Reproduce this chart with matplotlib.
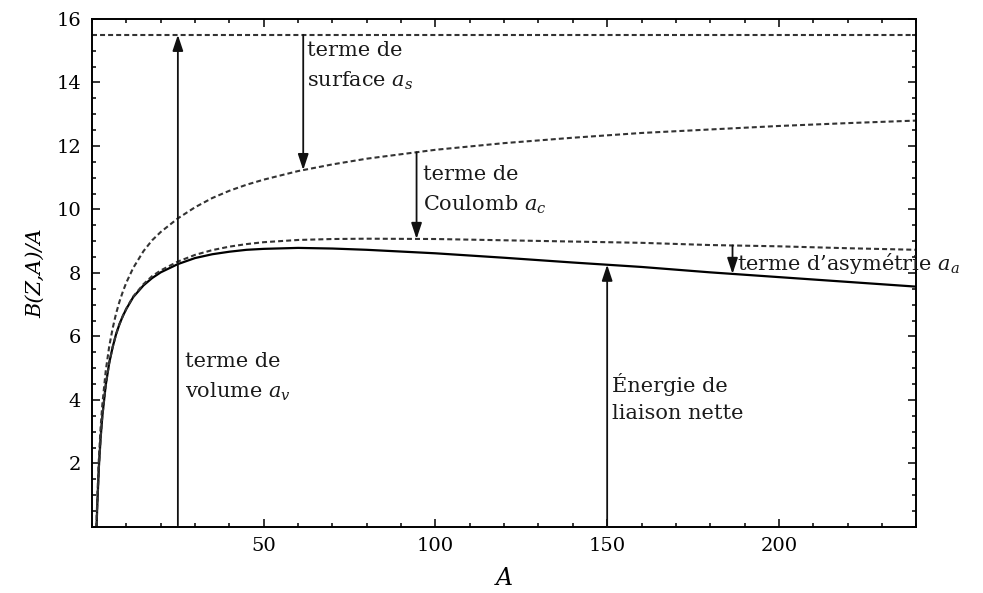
import numpy as np
import matplotlib
matplotlib.use("Agg")
import matplotlib.pyplot as plt
from matplotlib.ticker import MultipleLocator, FixedLocator

plt.rcParams['font.family'] = ['DejaVu Serif']
plt.rcParams['mathtext.fontset'] = 'dejavuserif'
plt.rcParams['lines.scale_dashes'] = False

# Énergie de liaison par nucléon, B(Z,A)/A, en MeV
A = [1, 1.25, 1.5, 2, 2.5, 3, 4, 5, 6, 7, 8, 9, 10, 12, 15, 17.5, 20, 25, 30,
     35, 40, 45, 50, 60, 70, 80, 100, 120, 140, 160, 180, 200, 220, 240]
volume = 15.5
surface = [-1.30, -0.10, 0.82, 2.17, 3.12, 3.85, 4.92, 5.68, 6.25, 6.72, 7.10,
           7.42, 7.70, 8.16, 8.69, 9.03, 9.29, 9.72, 10.07, 10.36, 10.59,
           10.78, 10.94, 11.21, 11.42, 11.60, 11.88, 12.09, 12.26, 12.41,
           12.52, 12.63, 12.72, 12.80]
coulomb = [-1.48, -0.31, 0.59, 1.89, 2.79, 3.48, 4.47, 5.16, 5.66, 6.07, 6.39,
           6.65, 6.88, 7.26, 7.65, 7.90, 8.08, 8.36, 8.57, 8.72, 8.83, 8.91,
           8.97, 9.04, 9.07, 9.08, 9.07, 9.03, 8.99, 8.95, 8.88, 8.84, 8.78,
           8.73]
nette = [-1.48, -0.31, 0.59, 1.89, 2.79, 3.48, 4.47, 5.16, 5.66, 6.07, 6.39,
         6.65, 6.87, 7.24, 7.61, 7.84, 8.02, 8.28, 8.47, 8.59, 8.67, 8.73,
         8.76, 8.79, 8.77, 8.73, 8.62, 8.48, 8.33, 8.19, 8.02, 7.87, 7.72,
         7.57]

# abscisses des flèches
A_volume, A_surface, A_coulomb, A_asym, A_nette = 25, 61.5, 94.5, 186.5, 150

fig = plt.figure(figsize=(9.83, 5.93), dpi=100)
ax = fig.add_axes([0.0936, 0.1113, 0.8385, 0.8567])

dash = dict(color='#333333', lw=1.5, dashes=(3.6, 2.2))
ax.plot(A, nette, color='black', lw=1.6)
ax.axhline(volume, **dash)
ax.plot(A, surface, **dash)
ax.plot(A, coulomb, **dash)

ax.set_xlim(0, 240)
ax.set_ylim(0, 16)


def fleche(x, y0, y1):
    ax.annotate('', xy=(x, y1), xytext=(x, y0),
                arrowprops=dict(arrowstyle='-|>,head_length=0.6,head_width=0.2',
                                color='#111111', lw=1.3, mutation_scale=16,
                                shrinkA=0, shrinkB=0))


fleche(A_volume, 0.05, volume)
fleche(A_surface, volume, np.interp(A_surface, A, surface))
fleche(A_coulomb, np.interp(A_coulomb, A, surface), np.interp(A_coulomb, A, coulomb))
fleche(A_asym, np.interp(A_asym, A, coulomb), np.interp(A_asym, A, nette))
fleche(A_nette, 0.0, np.interp(A_nette, A, nette))

txt = dict(fontsize=15, color='#1a1a1a', va='top', ha='left', linespacing=1.55)
ax.text(A_surface + 1.2, 15.3, "terme de\nsurface $a_s$", **txt)
ax.text(A_coulomb + 2.0, 11.4, "terme de\nCoulomb $a_c$", **txt)
ax.text(A_volume + 2.0, 5.5, "terme de\nvolume $a_v$", **txt)
ax.text(A_nette + 1.5, 4.85, "Énergie de\nliaison nette", **txt)
ax.text(A_asym + 1.2, 8.3, "terme d\u2019asymétrie $a_a$", fontsize=15,
        color='#1a1a1a', va='center', ha='left', clip_on=False)

ax.xaxis.set_major_locator(FixedLocator([50, 100, 150, 200]))
ax.xaxis.set_minor_locator(MultipleLocator(10))
ax.yaxis.set_major_locator(FixedLocator([2, 4, 6, 8, 10, 12, 14, 16]))
ax.yaxis.set_minor_locator(MultipleLocator(0.5))
ax.tick_params(which='both', direction='in', top=True, right=True, width=1.1,
               labelsize=14)
ax.tick_params(which='major', length=6)
ax.tick_params(which='minor', length=3)
ax.tick_params(axis='y', pad=8)
ax.tick_params(axis='x', pad=7)
for s in ax.spines.values():
    s.set_linewidth(1.4)

ax.set_xlabel("A", fontsize=17, style='italic', labelpad=9)
ax.set_ylabel("B(Z,A)/A", fontsize=15, style='italic', labelpad=8)

fig.savefig("out.png", dpi=100)
